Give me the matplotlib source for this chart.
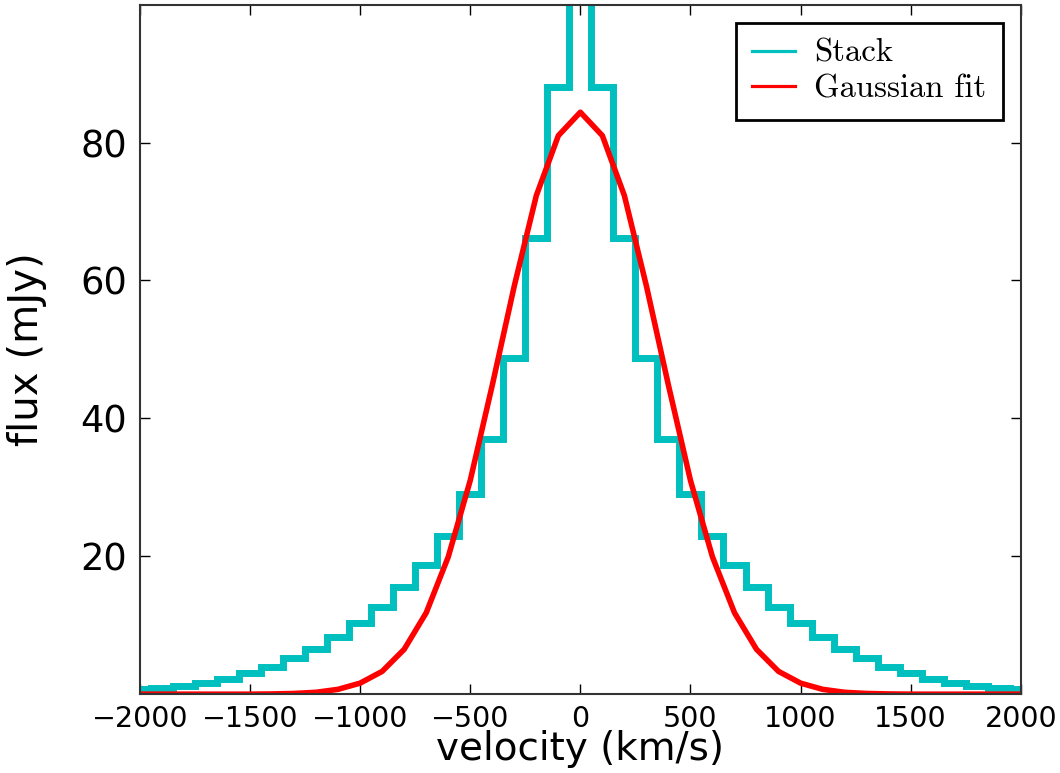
import matplotlib
matplotlib.use("Agg")
import matplotlib.pyplot as plt
from matplotlib.lines import Line2D

# bin centres (km/s)
velocity = [-2000, -1900, -1800, -1700, -1600, -1500, -1400, -1300, -1200, -1100,
            -1000, -900, -800, -700, -600, -500, -400, -300, -200, -100,
            0,
            100, 200, 300, 400, 500, 600, 700, 800, 900, 1000,
            1100, 1200, 1300, 1400, 1500, 1600, 1700, 1800, 1900, 2000]

# stacked flux (mJy)
stack = [0.7, 0.9, 1.2, 1.6, 2.2, 3.0, 4.0, 5.2, 6.5, 8.3,
         10.3, 12.7, 15.5, 18.7, 23.0, 29.0, 37.0, 48.7, 66.2, 88.0,
         112.0,
         88.0, 66.2, 48.7, 37.0, 29.0, 23.0, 18.7, 15.5, 12.7, 10.3,
         8.3, 6.5, 5.2, 4.0, 3.0, 2.2, 1.6, 1.2, 0.9, 0.7]

# gaussian fit (mJy)
fit = [0.0, 0.0, 0.0, 0.0, 0.0, 0.0, 0.03, 0.1, 0.27, 0.7,
       1.6, 3.3, 6.5, 11.8, 19.9, 31.0, 44.8, 59.2, 72.3, 81.0,
       84.4,
       81.0, 72.3, 59.2, 44.8, 31.0, 19.9, 11.8, 6.5, 3.3, 1.6,
       0.7, 0.27, 0.1, 0.03, 0.0, 0.0, 0.0, 0.0, 0.0, 0.0]

xticks = [-2000, -1500, -1000, -500, 0, 500, 1000, 1500, 2000]
yticks = [20, 40, 60, 80]

cyan = (0.0, 0.75, 0.75)
red = (1.0, 0.0, 0.0)

fig = plt.figure(figsize=(10.6, 7.73), dpi=100)
ax = fig.add_axes([0.132, 0.102, 0.831, 0.892])

ax.plot(velocity, stack, drawstyle="steps-mid", color=cyan, lw=5, label="Stack",
        solid_joinstyle="miter")
ax.plot(velocity, fit, color=red, lw=4, label="Gaussian fit")

ax.set_xlim(-2000, 2000)
ax.set_ylim(0, 100)
ax.set_xticks(xticks)
ax.set_yticks(yticks)

ax.set_xticklabels([("\u2212" + str(-t)) if t < 0 else str(t) for t in xticks],
                   fontsize=20.5)
ax.set_yticklabels([str(t) for t in yticks], fontsize=26.5)

ax.tick_params(direction="in", length=7, width=1, top=True, right=True, pad=9)
ax.tick_params(axis="x", pad=8)
for s in ax.spines.values():
    s.set_linewidth(1.5)
    s.set_color("#333333")

ax.set_xlabel("velocity (km/s)", fontsize=28, labelpad=-2)
ax.set_ylabel("flux (mJy)", fontsize=29, labelpad=24)

handles = [Line2D([], [], color=cyan, lw=2.3), Line2D([], [], color=red, lw=2.3)]
leg = ax.legend(handles, ["Stack", "Gaussian fit"], loc="upper right",
                prop={"family": "cmr10", "size": 23.5}, fancybox=False,
                edgecolor="black", framealpha=1, borderaxespad=0.55,
                handlelength=1.3, handletextpad=0.6, borderpad=0.5,
                labelspacing=0.2)
leg.get_frame().set_linewidth(2)

fig.savefig("out.png", dpi=100)
